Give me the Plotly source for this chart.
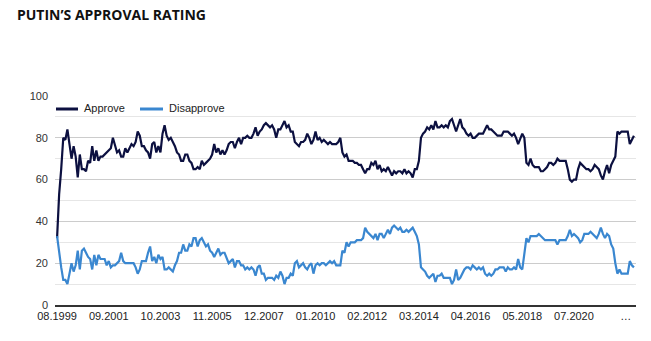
import plotly.graph_objects as go

approve = [
    32, 53, 65, 80, 79, 84, 77, 70, 76, 71,
    61, 72, 65, 65, 64, 69, 68, 76, 69, 74,
    69, 71, 71, 72, 73, 74, 75, 80, 77, 73,
    74, 71, 71, 75, 73, 75, 77, 76, 78, 83,
    81, 76, 76, 74, 73, 70, 77, 78, 73, 76,
    73, 82, 86, 81, 79, 80, 78, 76, 73, 72,
    69, 69, 72, 72, 69, 68, 65, 65, 66, 65,
    69, 67, 68, 69, 70, 72, 77, 73, 75, 72,
    74, 72, 74, 77, 78, 78, 75, 78, 80, 77,
    80, 80, 81, 80, 80, 82, 85, 81, 83, 84,
    86, 87, 86, 85, 86, 84, 80, 84, 84, 86,
    88, 85, 86, 83, 83, 78, 77, 76, 78, 78,
    79, 82, 80, 77, 79, 83, 79, 80, 78, 79,
    78, 77, 78, 77, 77, 77, 78, 80, 73, 71,
    72, 69, 69, 69, 68, 68, 67, 67, 65, 63,
    65, 65, 68, 67, 69, 65, 67, 64, 65, 64,
    66, 64, 62, 64, 63, 64, 64, 63, 65, 63,
    64, 63, 61, 65, 65, 69, 80, 82, 83, 85,
    84, 86, 84, 88, 85, 85, 86, 85, 86, 85,
    88, 89, 86, 83, 86, 89, 85, 84, 82, 81,
    82, 80, 80, 81, 82, 82, 82, 84, 86, 84,
    84, 83, 82, 81, 81, 81, 83, 83, 83, 82,
    81, 82, 80, 77, 80, 82, 80, 68, 67, 70,
    67, 66, 66, 66, 64, 64, 65, 66, 68, 68,
    67, 68, 70, 69, 69, 69, 69, 65, 60, 59,
    60, 60, 65, 68, 67, 66, 65, 65, 64, 65,
    67, 66, 65, 62, 60, 64, 67, 63, 67, 69,
    71, 83, 82, 83, 83, 83, 83, 77, 79, 81,
]

disapprove = [
    33, 25, 18, 12, 12, 10, 15, 20, 16, 19,
    26, 17, 26, 27, 25, 23, 22, 17, 24, 19,
    24, 22, 22, 22, 19, 21, 18, 19, 19, 20,
    21, 25, 21, 20, 20, 20, 20, 20, 18, 15,
    17, 21, 21, 21, 25, 28, 21, 23, 20, 24,
    22, 23, 17, 17, 18, 17, 16, 19, 21, 25,
    25, 29, 26, 26, 29, 28, 32, 32, 28, 31,
    32, 30, 28, 29, 26, 25, 23, 25, 27, 24,
    25, 25, 22, 20, 21, 22, 18, 21, 21, 19,
    19, 17, 18, 17, 18, 17, 14, 18, 19, 15,
    15, 12, 13, 13, 13, 12, 14, 13, 16, 14,
    10, 13, 13, 15, 14, 20, 21, 18, 19, 20,
    18, 17, 19, 20, 15, 19, 20, 19, 20, 20,
    19, 20, 21, 20, 21, 19, 19, 19, 26, 25,
    30, 28, 30, 30, 30, 31, 31, 31, 32, 37,
    35, 34, 33, 32, 34, 31, 34, 34, 32, 34,
    36, 34, 37, 38, 37, 36, 37, 35, 35, 36,
    35, 36, 37, 35, 33, 29, 18, 17, 16, 14,
    13, 14, 15, 11, 14, 14, 15, 13, 13, 13,
    13, 10, 12, 17, 12, 13, 15, 17, 18, 18,
    17, 19, 18, 17, 18, 17, 18, 15, 14, 15,
    14, 15, 17, 17, 18, 18, 18, 16, 18, 17,
    17, 18, 17, 22, 18, 17, 24, 32, 30, 33,
    33, 33, 33, 34, 33, 32, 31, 31, 31, 31,
    31, 31, 29, 31, 31, 31, 31, 33, 36, 33,
    34, 33, 32, 30, 31, 34, 34, 34, 35, 34,
    33, 32, 34, 37, 34, 32, 34, 33, 29, 27,
    20, 15, 17, 15, 15, 15, 15, 21, 19, 18,
]

series_names = ["Approve", "Disapprove"]
series_colors = ["#0c1040", "#3a87d0"]

# Survey months (one month, 05.2020, has no survey)
start_year, start_month = 1999, 8
skipped_months = ["05.2020"]

months = []
y, m = start_year, start_month
while len(months) < len(approve):
    lab = f"{m:02d}.{y}"
    if lab not in skipped_months:
        months.append(lab)
    m += 1
    if m > 12:
        m = 1
        y += 1

tick_values = ["08.1999", "09.2001", "10.2003", "11.2005", "12.2007", "01.2010",
               "02.2012", "03.2014", "04.2016", "05.2018", "07.2020", "08.2022"]
tick_labels = ["08.1999", "09.2001", "10.2003", "11.2005", "12.2007", "01.2010",
               "02.2012", "03.2014", "04.2016", "05.2018", "07.2020", "…"]

W, H = 651, 341
ML, MR, MT, MB = 55, 15, 96, 36
PW, PH = W - ML - MR, H - MT - MB

fig = go.Figure()
for name, vals, col in zip(series_names, [approve, disapprove], series_colors):
    fig.add_trace(go.Scatter(x=months, y=vals, name=name, mode="lines",
                             line=dict(color=col, width=2.2), showlegend=False))

# Custom legend (line swatch + label) placed like the reference
legend_items = [(56, 78, 82), (140, 163, 167)]  # swatch x0, x1, text x (px)
legend_y_px = 108
shapes, annotations = [], []
for (sx0, sx1, tx), name, col in zip(legend_items, series_names, series_colors):
    yy = 1 - (legend_y_px + 1 - MT) / PH
    shapes.append(dict(type="line", xref="paper", yref="paper",
                       x0=(sx0 - ML) / PW, x1=(sx1 - ML) / PW, y0=yy, y1=yy,
                       line=dict(color=col, width=3)))
    annotations.append(dict(xref="paper", yref="paper", x=(tx - ML) / PW,
                            y=1 - (legend_y_px - MT) / PH, text=name, showarrow=False,
                            xanchor="left", yanchor="middle",
                            font=dict(family="Liberation Sans, Arial", size=11, color="#222222")))

fig.update_layout(
    width=W, height=H,
    margin=dict(l=ML, r=MR, t=MT, b=MB),
    paper_bgcolor="white", plot_bgcolor="white",
    title=dict(text="<b>PUTIN’S APPROVAL RATING</b>", xref="container", yref="container",
               x=17 / W, y=1 - 15 / H, xanchor="left", yanchor="middle",
               font=dict(family="Open Sans", size=14, color="#111111")),
    font=dict(family="Liberation Sans, Arial", size=11, color="#222222"),
    shapes=shapes, annotations=annotations,
    showlegend=False,
)
fig.update_xaxes(type="category", range=[-1, len(months)], tickvals=tick_values,
                 ticktext=tick_labels, showgrid=False, zeroline=False,
                 showline=True, linecolor="#333333", linewidth=2, ticks="",
                 tickfont=dict(family="Liberation Sans, Arial", size=11, color="#222222"))
fig.update_yaxes(range=[0, 100], dtick=20, tick0=0, showgrid=True, gridcolor="#cccccc",
                 gridwidth=1, zeroline=False, ticks="", ticklabelstandoff=6,
                 minor=dict(dtick=10, tick0=0, showgrid=True, gridcolor="#e6e6e6", gridwidth=1),
                 tickfont=dict(family="Liberation Sans, Arial", size=11, color="#333333"))

fig.write_html("out.html")
